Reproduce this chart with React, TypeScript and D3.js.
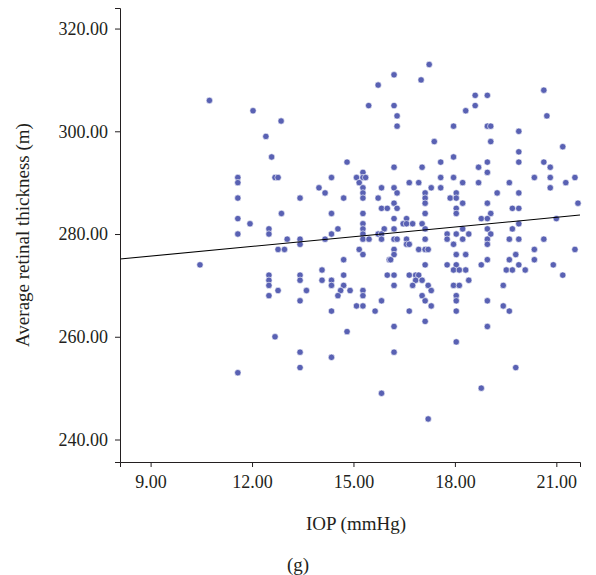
import React, { useEffect, useRef } from 'react';
import * as d3 from 'd3';

// IOP (mmHg) and average retinal thickness
const iop = [
  10.74, 12.03, 12.86, 12.41, 12.58, 11.58, 11.58, 12.68, 12.77, 11.58, 12.87,
  15.45, 14.81, 15.28, 14.35, 15.09, 15.28, 15.36, 15.17, 13.98, 15.28, 15.83, 14.16, 15.28, 13.42, 14.71, 15.28, 15.73, 15.83, 16.0, 14.35, 15.28,
  18.6, 16.2, 18.6, 18.32, 16.29, 16.29, 17.96, 17.39, 17.58, 17.96, 16.2, 17.03, 18.7, 17.58, 17.96, 16.65, 16.93, 18.23, 18.7, 16.2, 17.3, 17.58, 16.29, 17.12, 18.04, 17.12, 17.86, 18.04, 16.2, 17.12, 18.23, 16.29, 18.04, 17.12, 18.04,
  18.96, 20.63, 20.72, 18.96, 19.06, 19.89, 19.06, 21.19, 19.89, 18.96, 19.89, 20.63, 20.82, 18.96, 20.35, 20.82, 21.55, 19.61, 21.28, 20.82, 19.25, 19.89, 18.96, 21.64, 19.7, 19.89, 19.06,
  11.58, 11.94, 12.5, 11.58, 12.5, 13.04, 12.77, 12.96, 10.46, 12.5, 12.5, 12.5, 12.77, 12.5,
  15.28, 15.28, 15.91, 14.54, 14.35, 15.28, 15.73, 15.83, 13.42, 14.16, 15.28, 15.46, 15.83, 13.42, 15.17, 15.28, 14.71, 16.06, 14.07, 13.42, 14.71, 16.0, 13.42, 14.07, 14.35, 14.35, 14.71, 13.61, 14.62, 14.9, 15.28, 14.54, 15.28, 13.42, 15.83, 15.09, 15.28, 14.35, 15.64, 14.81,
  16.2, 16.57, 16.47, 16.57, 16.75, 17.03, 16.2, 17.12, 18.78, 18.23, 17.77, 18.04, 18.41, 16.2, 16.29, 16.57, 17.12, 17.77, 18.23, 16.57, 16.65, 17.96, 16.2, 16.93, 17.12, 17.21, 16.2, 18.04, 18.32, 16.1, 17.12, 17.77, 18.04, 18.78, 17.96, 18.13, 18.32,
  16.2, 16.65, 16.84, 16.93, 16.84, 17.03, 18.41, 16.2, 16.75, 17.21, 17.96, 18.13, 17.3, 17.03, 18.04, 17.12, 18.04, 17.3, 16.65, 18.04, 17.12, 16.2,
  18.96, 21.0, 19.89, 18.96, 19.7, 19.06, 18.96, 19.61, 19.89, 20.63, 18.96, 20.35, 21.55, 19.8, 18.96, 19.61, 20.35, 19.89, 20.91, 19.52, 19.7, 20.08, 21.19, 19.43, 18.96, 19.43, 19.61, 18.96,
  12.68, 11.58, 13.42, 14.35, 13.42, 15.83, 16.2, 18.04, 18.78, 17.21, 19.8,
  16.2, 17.0, 17.24, 15.73,
];

const thickness = [
  306, 304, 302, 299, 295, 291, 290, 291, 291, 287, 284,
  305, 294, 292, 291, 291, 291, 291, 290, 289, 289, 289, 288, 288, 287, 287, 287, 287, 285, 285, 284, 284,
  307, 305, 305, 304, 303, 301, 301, 298, 294, 295, 293, 293, 293, 291, 291, 290, 290, 290, 290, 289, 289, 289, 288, 288, 288, 287, 287, 287, 286, 286, 286, 285, 285, 284, 284,
  307, 308, 303, 301, 301, 300, 298, 297, 296, 294, 294, 294, 293, 292, 291, 291, 291, 290, 290, 289, 288, 288, 286, 286, 285, 285, 284,
  283, 282, 281, 280, 280, 279, 277, 277, 274, 272, 271, 270, 269, 268,
  282, 281, 281, 281, 280, 280, 280, 280, 279, 279, 279, 279, 279, 278, 277, 276, 275, 275, 273, 272, 272, 272, 271, 271, 271, 270, 270, 269, 269, 269, 269, 268, 268, 267, 267, 266, 266, 265, 265, 261,
  283, 283, 282, 282, 282, 282, 281, 281, 283, 281, 280, 280, 280, 279, 279, 279, 279, 279, 279, 278, 278, 278, 277, 277, 277, 277, 276, 276, 276, 275, 274, 274, 274, 274, 273, 273, 273,
  272, 272, 272, 272, 271, 271, 271, 270, 270, 270, 270, 270, 269, 268, 268, 267, 267, 266, 265, 265, 263, 262,
  283, 283, 282, 281, 281, 280, 279, 279, 279, 279, 278, 277, 277, 276, 275, 275, 275, 274, 274, 273, 273, 273, 272, 270, 267, 266, 265, 262,
  260, 253, 257, 256, 254, 249, 257, 259, 250, 244, 254,
  311, 310, 313, 309,
];

const xTicks = [9, 12, 15, 18, 21];
const yTicks = [240, 260, 280, 300, 320];

// fitted line as drawn in the figure
const fitIntercept = 270.04;
const fitSlope = 0.629;

const App = () => {
  const svgRef = useRef(null);

  useEffect(() => {
    const width = 596;
    const height = 575;
    const margin = { top: 8, right: 16, bottom: 113, left: 120 };
    const font = '"Liberation Serif", "Times New Roman", serif';

    const svg = d3.select(svgRef.current);
    svg.selectAll('*').remove();

    const x = d3.scaleLinear()
      .domain([8.095, 21.7])
      .range([margin.left, width - margin.right]);

    const y = d3.scaleLinear()
      .domain([235.62, 324])
      .range([height - margin.bottom, margin.top]);

    const points = iop.map((v, i) => ({ x: v, y: thickness[i] }));

    // points
    svg.append('g')
      .selectAll('circle')
      .data(points)
      .join('circle')
      .attr('cx', d => x(d.x))
      .attr('cy', d => y(d.y))
      .attr('r', 3.2)
      .attr('fill', '#5961b3')
      .attr('stroke', '#fff')
      .attr('stroke-width', 0.6);

    // fit line
    const [x0, x1] = x.domain();
    svg.append('line')
      .attr('x1', x(x0))
      .attr('y1', y(fitIntercept + fitSlope * x0))
      .attr('x2', x(x1))
      .attr('y2', y(fitIntercept + fitSlope * x1))
      .attr('stroke', '#000')
      .attr('stroke-width', 1.1);

    // axes
    const xAxis = svg.append('g')
      .attr('transform', `translate(0,${height - margin.bottom})`)
      .call(d3.axisBottom(x).tickValues(xTicks).tickFormat(d3.format('.2f')).tickSizeOuter(0).tickSize(5).tickPadding(8));

    const yAxis = svg.append('g')
      .attr('transform', `translate(${margin.left},0)`)
      .call(d3.axisLeft(y).tickValues(yTicks).tickFormat(d3.format('.2f')).tickSizeOuter(0).tickSize(5).tickPadding(7));

    [xAxis, yAxis].forEach(a => {
      a.selectAll('text')
        .attr('font-family', font)
        .attr('font-size', 18)
        .attr('fill', '#231f20');
      a.selectAll('path, line').attr('stroke', '#231f20');
    });

    // titles
    svg.append('text')
      .attr('x', (margin.left + width - margin.right) / 2 + 6)
      .attr('y', 530)
      .attr('text-anchor', 'middle')
      .attr('font-family', font)
      .attr('font-size', 19)
      .attr('fill', '#231f20')
      .text('IOP (mmHg)');

    svg.append('text')
      .attr('transform', `translate(22,${(margin.top + height - margin.bottom) / 2}) rotate(-90)`)
      .attr('text-anchor', 'middle')
      .attr('dy', '0.35em')
      .attr('font-family', font)
      .attr('font-size', 19)
      .attr('fill', '#231f20')
      .text('Average retinal thickness (m)');

    svg.append('text')
      .attr('x', 298)
      .attr('y', 571)
      .attr('text-anchor', 'middle')
      .attr('font-family', font)
      .attr('font-size', 19)
      .attr('fill', '#231f20')
      .text('(g)');
  }, []);

  return (
    <div style={{ position: 'absolute', left: 0, top: 0 }}>
      <svg ref={svgRef} width={596} height={575} style={{ display: 'block', background: '#fff' }}></svg>
    </div>
  );
};

export default App;
